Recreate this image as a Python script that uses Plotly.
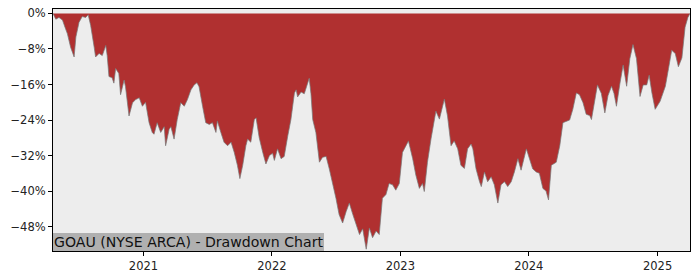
import plotly.graph_objects as go

dates = [
"2020-04-19","2020-04-27","2020-05-06","2020-05-16","2020-05-23","2020-05-30","2020-06-08","2020-06-18","2020-06-23","2020-07-02",
"2020-07-11","2020-07-21","2020-07-28","2020-08-04","2020-08-14","2020-08-18","2020-08-28","2020-09-06","2020-09-16","2020-09-20",
"2020-09-25","2020-10-04","2020-10-09","2020-10-14","2020-10-23","2020-10-28","2020-11-07","2020-11-11","2020-11-21","2020-12-01",
"2020-12-10","2020-12-20","2020-12-29","2021-01-07","2021-01-17","2021-01-26","2021-01-31","2021-02-09","2021-02-19","2021-03-01",
"2021-03-05","2021-03-15","2021-03-20","2021-03-29","2021-04-07","2021-04-17","2021-04-27","2021-05-06","2021-05-16","2021-05-25",
"2021-06-02","2021-06-08","2021-06-18","2021-06-27","2021-07-07","2021-07-16","2021-07-26","2021-07-30","2021-08-09","2021-08-18",
"2021-08-28","2021-09-07","2021-09-16","2021-09-25","2021-10-02","2021-10-10","2021-10-19","2021-10-24","2021-11-02","2021-11-12",
"2021-11-17","2021-11-26","2021-12-06","2021-12-15","2021-12-25","2022-01-03","2022-01-08","2022-01-17","2022-01-27","2022-02-05",
"2022-02-15","2022-02-24","2022-03-06","2022-03-11","2022-03-15","2022-03-25","2022-04-03","2022-04-13","2022-04-17","2022-04-22",
"2022-04-27","2022-05-06","2022-05-16","2022-05-25","2022-06-04","2022-06-13","2022-06-22","2022-07-02","2022-07-11","2022-07-21",
"2022-07-31","2022-08-09","2022-08-19","2022-08-28","2022-09-07","2022-09-16","2022-09-26","2022-10-05","2022-10-14","2022-10-24",
"2022-11-02","2022-11-11","2022-11-21","2022-11-30","2022-12-10","2022-12-19","2022-12-29","2023-01-07","2023-01-17","2023-01-24",
"2023-02-05","2023-02-14","2023-02-24","2023-03-05","2023-03-10","2023-03-19","2023-03-29","2023-04-07","2023-04-12","2023-04-22",
"2023-05-01","2023-05-06","2023-05-15","2023-05-25","2023-06-03","2023-06-13","2023-06-22","2023-07-02","2023-07-11","2023-07-21",
"2023-07-26","2023-08-04","2023-08-14","2023-08-19","2023-08-28","2023-09-06","2023-09-16","2023-09-25","2023-10-05","2023-10-14",
"2023-10-24","2023-11-02","2023-11-12","2023-11-21","2023-12-01","2023-12-10","2023-12-25","2024-01-03","2024-01-12","2024-01-22",
"2024-01-31","2024-02-10","2024-02-19","2024-02-26","2024-03-05","2024-03-19","2024-03-29","2024-04-07","2024-04-17","2024-04-26",
"2024-05-05","2024-05-15","2024-05-24","2024-06-03","2024-06-12","2024-06-22","2024-06-27","2024-07-06","2024-07-14","2024-07-25",
"2024-08-04","2024-08-13","2024-08-23","2024-08-30","2024-09-06","2024-09-16","2024-09-25","2024-10-05","2024-10-14","2024-10-23",
"2024-11-02","2024-11-12","2024-11-21","2024-12-01","2024-12-08","2024-12-16","2024-12-25","2025-01-08","2025-01-23","2025-02-01",
"2025-02-10","2025-02-20","2025-03-01","2025-03-11","2025-03-20","2025-03-28","2025-04-03",
]

drawdown_pct = [
0.0,-1.3,-0.9,-1.5,-3.1,-4.6,-7.6,-9.8,-5.3,-2.0,
-0.7,-0.9,-0.3,-2.7,-7.6,-9.8,-9.0,-9.5,-7.2,-9.5,
-14.2,-14.5,-15.7,-12.4,-13.5,-18.3,-15.0,-16.5,-23.1,-20.1,
-19.4,-19.0,-20.9,-20.0,-24.6,-26.8,-27.2,-24.6,-26.8,-25.5,
-29.8,-26.1,-25.5,-28.3,-23.9,-20.1,-20.9,-19.4,-17.2,-16.1,
-15.6,-16.5,-20.9,-24.6,-25.0,-24.6,-26.8,-24.2,-26.8,-29.0,
-29.8,-29.0,-31.3,-34.2,-37.2,-34.2,-29.8,-28.3,-29.0,-23.9,
-23.5,-28.0,-31.3,-33.9,-32.0,-31.5,-33.1,-30.5,-32.7,-32.2,
-27.6,-23.9,-17.9,-17.2,-18.8,-17.7,-18.1,-15.3,-14.6,-18.1,
-23.9,-26.8,-33.5,-32.4,-32.2,-35.0,-37.9,-41.6,-45.3,-47.2,
-44.6,-42.7,-45.3,-47.6,-49.8,-48.5,-53.1,-48.3,-50.5,-49.0,
-49.8,-41.6,-40.8,-38.3,-38.6,-39.8,-38.3,-31.3,-29.8,-28.7,
-32.7,-36.4,-39.4,-38.3,-40.1,-33.5,-28.3,-24.6,-22.0,-23.8,
-20.9,-19.3,-23.1,-29.8,-28.7,-30.5,-34.2,-34.9,-30.5,-29.4,
-30.5,-35.0,-37.9,-39.0,-35.7,-37.9,-36.8,-38.6,-42.7,-38.6,
-37.9,-39.0,-37.9,-35.7,-32.7,-35.3,-30.5,-32.7,-35.0,-35.7,
-36.0,-39.4,-40.0,-42.0,-34.2,-33.5,-29.8,-24.6,-24.3,-24.0,
-21.6,-17.9,-18.3,-20.1,-22.7,-23.0,-23.9,-19.5,-16.1,-18.0,
-22.4,-18.5,-16.4,-18.0,-20.9,-15.7,-11.6,-16.4,-10.2,-7.0,
-10.2,-18.7,-16.1,-16.1,-13.9,-18.0,-21.6,-19.8,-16.4,-12.4,
-8.3,-9.0,-12.0,-10.0,-3.1,-0.9,0.0,
]

y_ticks = [0, -0.08, -0.16, -0.24, -0.32, -0.40, -0.48]
x_ticks = ["2021-01-01", "2022-01-01", "2023-01-01", "2024-01-01", "2025-01-01"]
x_tick_labels = ["2021", "2022", "2023", "2024", "2025"]
title_text = "GOAU (NYSE ARCA) - Drawdown Chart"

values = [v / 100 for v in drawdown_pct]

fig = go.Figure()
fig.add_trace(go.Scatter(
    x=dates, y=values, mode="lines", fill="tozeroy",
    fillcolor="#b03030", line=dict(color="rgba(120,120,120,0.9)", width=0.8),
    hoverinfo="skip", showlegend=False,
))

font_family = "DejaVu Sans"
fig.update_layout(
    width=700, height=280,
    margin=dict(l=53, r=10, t=7, b=28),
    paper_bgcolor="white", plot_bgcolor="#ededed",
    font=dict(family=font_family, size=11.5, color="#222222"),
    showlegend=False,
)
fig.update_xaxes(
    range=[dates[0], dates[-1]], tickvals=x_ticks, ticktext=x_tick_labels,
    showgrid=False, zeroline=False, ticks="outside", ticklen=4, tickwidth=1,
    tickcolor="black", showline=True, linecolor="black", linewidth=1, mirror=True,
)
fig.update_yaxes(
    range=[-0.535, 0.010], tickvals=y_ticks, tickformat=".0%",
    showgrid=False, zeroline=False, ticks="outside", ticklen=4, tickwidth=1,
    tickcolor="black", showline=True, linecolor="black", linewidth=1, mirror=True,
)
fig.add_annotation(
    text=title_text, xref="paper", yref="paper", x=0, y=0,
    xanchor="left", yanchor="bottom", showarrow=False,
    font=dict(family=font_family, size=14.1, color="#111111"),
    bgcolor="#b0b0b0", borderpad=1, borderwidth=0,
)

fig.write_html("out.html")
